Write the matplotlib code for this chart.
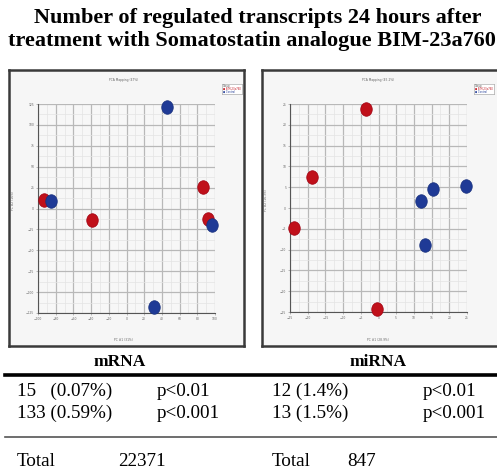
import numpy as np
import matplotlib.pyplot as plt
from matplotlib.ticker import MultipleLocator
from matplotlib.path import Path

# --- data ---
# mRNA PCA scores (PC1, PC2)
mrna_treated_x = [-93.2, -38.9, 86.0, 92.5]
mrna_treated_y = [9.6, -14.0, 25.3, -12.0]
mrna_control_x = [-84.9, 46.0, 97.0, 30.6]
mrna_control_y = [8.4, 121.8, -20.0, -117.8]

# miRNA PCA scores (PC1, PC2)
mirna_treated_x = [-3.4, -18.8, -24.0, -0.4]
mirna_treated_y = [23.8, 7.5, -4.7, -24.2]
mirna_control_x = [11.9, 15.3, 24.7, 13.1]
mirna_control_y = [1.8, 4.6, 5.4, -8.8]

panel_names = ['mRNA', 'miRNA']
row1 = [['15   (0.07%)', 'p<0.01'], ['12 (1.4%)', 'p<0.01']]
row2 = [['133 (0.59%)', 'p<0.001'], ['13 (1.5%)', 'p<0.001']]
totals = ['22371', '847']

RED = '#c0101a'
BLUE = '#1f3a96'
SERIF = 'Liberation Serif'

W, H = 497, 468
fig = plt.figure(figsize=(W / 100, H / 100), dpi=100)
fig.patch.set_facecolor('white')

# slightly tall ellipse as marker (the screenshot dots are not round)
t = np.linspace(0, 2 * np.pi, 60)
ellipse = Path(np.column_stack([0.85 * np.cos(t), np.sin(t)]), closed=True)


def fx(px):
    return px / W


def fy(py):
    return 1 - py / H


def box(x0, y0, x1, y1):
    return [fx(x0), fy(y1), fx(x1) - fx(x0), fy(y0) - fy(y1)]


# --- title ---
fig.text(fx(258), fy(18), 'Number of regulated transcripts 24 hours after',
         ha='center', va='center', fontsize=16, fontweight='bold', family=SERIF)
fig.text(fx(252), fy(41), 'treatment with Somatostatin analogue BIM-23a760',
         ha='center', va='center', fontsize=16, fontweight='bold', family=SERIF)

panels = [
    dict(frame=(9, 70, 244, 346), inner=(38, 104, 215, 313),
         tx=mrna_treated_x, ty=mrna_treated_y, cx=mrna_control_x, cy=mrna_control_y,
         xlim=(-100, 100), xstep=20, ylim=(-125, 125), ystep=25,
         title='PCA Mapping (47%)', xl='PC #1 (31%)', yl='PC #2 (16%)'),
    dict(frame=(262, 70, 500, 346), inner=(290, 104, 467, 312),
         tx=mirna_treated_x, ty=mirna_treated_y, cx=mirna_control_x, cy=mirna_control_y,
         xlim=(-25, 25), xstep=5, ylim=(-25, 25), ystep=5,
         title='PCA Mapping (45.2%)', xl='PC #1 (28.9%)', yl='PC #2 (16.3%)'),
]

for p in panels:
    # outer screenshot frame
    fr = fig.add_axes(box(*p['frame']))
    fr.set_facecolor('#f6f6f6')
    fr.set_xticks([])
    fr.set_yticks([])
    for s in fr.spines.values():
        s.set_color('#3a3a3a')
        s.set_linewidth(1.8)

    x0, y0, x1, y1 = p['frame']
    fig.text(fx((x0 + x1) / 2 - 3), fy(y0 + 10), p['title'], ha='center', va='center',
             fontsize=2.2, color='#666666')
    fig.text(fx((x0 + x1) / 2 - 3), fy(y1 - 6), p['xl'], ha='center', va='center',
             fontsize=2.2, color='#666666')
    fig.text(fx(x0 + 4), fy(200), p['yl'], ha='center', va='center', rotation=90,
             fontsize=2.2, color='#666666')

    # tiny legend box
    lx0 = x1 - 22 if x1 < 497 else 474
    lg = fig.add_axes(box(lx0, 84, lx0 + 20, 94))
    lg.set_xticks([])
    lg.set_yticks([])
    lg.set_facecolor('white')
    for s in lg.spines.values():
        s.set_color('#999999')
        s.set_linewidth(0.4)
    lg.text(0.05, 0.8, 'Group', fontsize=1.8, va='center', color='#555555')
    lg.text(0.05, 0.5, '\u25cf BIM-23a760', fontsize=1.8, va='center', color=RED)
    lg.text(0.05, 0.2, '\u25cf Control', fontsize=1.8, va='center', color=BLUE)

    ax = fig.add_axes(box(*p['inner']))
    ax.set_facecolor('#f7f7f7')
    ax.set_xlim(*p['xlim'])
    ax.set_ylim(*p['ylim'])
    ax.xaxis.set_major_locator(MultipleLocator(p['xstep']))
    ax.yaxis.set_major_locator(MultipleLocator(p['ystep']))
    ax.xaxis.set_minor_locator(MultipleLocator(p['xstep'] / 2))
    ax.yaxis.set_minor_locator(MultipleLocator(p['ystep'] / 2))
    ax.grid(which='major', color='#b8b8b8', linewidth=0.9)
    ax.grid(which='minor', color='#e4e4e4', linewidth=0.5)
    ax.set_axisbelow(True)
    ax.tick_params(which='both', labelsize=2.2, labelcolor='#666666', length=1.2,
                   width=0.4, color='#888888', pad=1.5)
    ax.tick_params(which='minor', length=0)
    for side in ['top', 'right']:
        ax.spines[side].set_visible(False)
    for side in ['left', 'bottom']:
        ax.spines[side].set_color('#555555')
        ax.spines[side].set_linewidth(0.8)

    ax.scatter(p['tx'], p['ty'], s=95, marker=ellipse, color=RED, edgecolors='#a00010',
               linewidths=0.5, zorder=3, clip_on=False)
    ax.scatter(p['cx'], p['cy'], s=95, marker=ellipse, color=BLUE, edgecolors='#18307c',
               linewidths=0.5, zorder=3, clip_on=False)

# --- table below panels ---
fig.text(fx(120), fy(362), panel_names[0], ha='center', va='center', fontsize=12.5,
         fontweight='bold', family=SERIF)
fig.text(fx(378), fy(362), panel_names[1], ha='center', va='center', fontsize=12.5,
         fontweight='bold', family=SERIF)

fig.add_artist(plt.Line2D([fx(5), fx(497)], [fy(375), fy(375)], color='black', linewidth=2.6))
fig.add_artist(plt.Line2D([fx(5), fx(497)], [fy(437), fy(437)], color='#555555', linewidth=1.2))

col_x = [(17, 157), (272, 423)]
for i in range(2):
    fig.text(fx(col_x[i][0]), fy(391), row1[i][0], ha='left', va='center', fontsize=13.8, family=SERIF)
    fig.text(fx(col_x[i][1]), fy(391), row1[i][1], ha='left', va='center', fontsize=13.8, family=SERIF)
    fig.text(fx(col_x[i][0]), fy(413), row2[i][0], ha='left', va='center', fontsize=13.8, family=SERIF)
    fig.text(fx(col_x[i][1]), fy(413), row2[i][1], ha='left', va='center', fontsize=13.8, family=SERIF)

fig.text(fx(17), fy(461), 'Total', ha='left', va='center', fontsize=13.8, family=SERIF)
fig.text(fx(118), fy(461), totals[0], ha='left', va='center', fontsize=13.8, family=SERIF)
fig.text(fx(272), fy(461), 'Total', ha='left', va='center', fontsize=13.8, family=SERIF)
fig.text(fx(347), fy(461), totals[1], ha='left', va='center', fontsize=13.8, family=SERIF)

fig.savefig('out.png', dpi=100)
